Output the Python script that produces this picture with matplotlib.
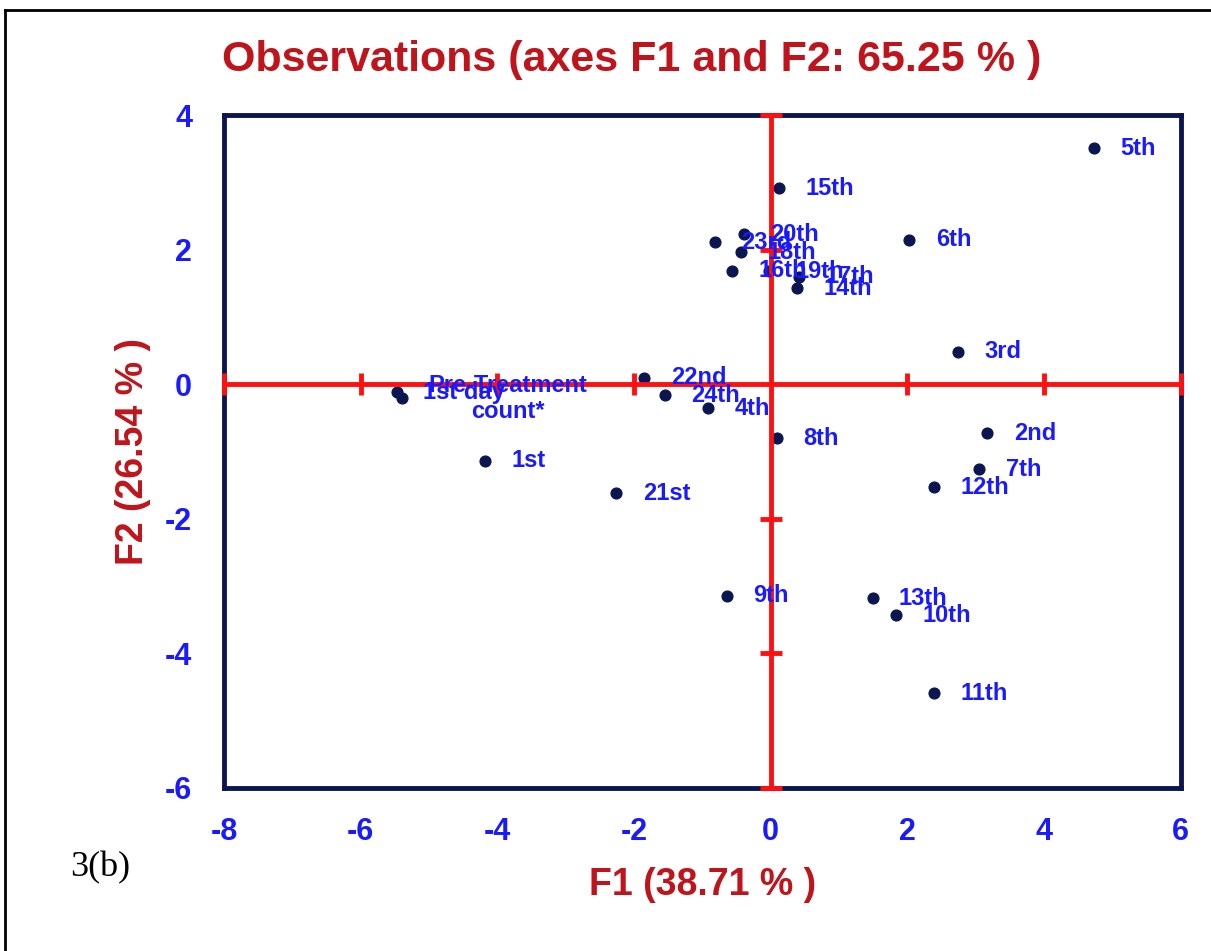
import matplotlib
matplotlib.use("Agg")
import matplotlib.pyplot as plt
from matplotlib.lines import Line2D
import numpy as np

# factor scores of the observations on F1 / F2
labels = ["Pre-Treatment\ncount*", "1st day", "1st", "2nd", "3rd", "4th", "5th", "6th",
          "7th", "8th", "9th", "10th", "11th", "12th", "13th", "14th", "15th",
          "16th", "17th", "18th", "19th", "20th", "21st", "22nd", "23rd", "24th"]
f1 = [-5.40, -5.47, -4.18, 3.17, 2.74, -0.92, 4.73, 2.03,
      3.05, 0.09, -0.64, 1.84, 2.39, 2.39, 1.49, 0.38, 0.12,
      -0.57, 0.41, -0.44, -0.03, -0.39, -2.26, -1.85, -0.82, -1.55]
f2 = [-0.21, -0.12, -1.14, -0.73, 0.48, -0.36, 3.51, 2.15,
      -1.26, -0.80, -3.14, -3.43, -4.59, -1.53, -3.18, 1.43, 2.91,
      1.69, 1.60, 1.96, 1.68, 2.23, -1.62, 0.10, 2.11, -0.16]

xticks = [-8, -6, -4, -2, 0, 2, 4, 6]
yticks = [-6, -4, -2, 0, 2, 4]

navy = "#0b1650"
red = "#ff1010"
darkred = "#c0141c"
blue = "#1a1aff"

plt.rcParams['font.family'] = ['Liberation Sans', 'DejaVu Sans']
plt.rcParams['axes.unicode_minus'] = False

fig = plt.figure(figsize=(12.11, 9.51), dpi=100)
ax = fig.add_axes([0.185, 0.1714, 0.790, 0.7076])

ax.set_xlim(-8, 6)
ax.set_ylim(-6, 4)

# red cross through the origin, with tick bars
ax.plot([-8, 6], [0, 0], color=red, lw=3.5, zorder=3, clip_on=False)
ax.plot([0, 0], [-6, 4], color=red, lw=3.5, zorder=3, clip_on=False)
ax.plot([t for t in xticks if t != 0], [0] * (len(xticks) - 1), ls="none",
        marker="|", ms=16, mew=3.5, color=red, zorder=3, clip_on=False)
ax.plot([0] * (len(yticks) - 1), [t for t in yticks if t != 0], ls="none",
        marker="_", ms=16, mew=3.5, color=red, zorder=3, clip_on=False)

ax.scatter(f1, f2, s=60, color=navy, zorder=2)

for lab, x, y in zip(labels, f1, f2):
    if "\n" in lab:
        ax.annotate(lab, (x, y), xytext=(19, 0), textcoords="offset points",
                    ha="left", va="center", color=blue, fontsize=17, fontweight="bold",
                    multialignment="center", linespacing=1.15, zorder=4)
    else:
        ax.annotate(lab, (x, y), xytext=(19, 0), textcoords="offset points",
                    ha="left", va="center", color=blue, fontsize=17, fontweight="bold",
                    zorder=4)

for sp in ax.spines.values():
    sp.set_color(navy)
    sp.set_linewidth(3.5)

ax.set_xticks(xticks)
ax.set_yticks(yticks)
ax.tick_params(axis="x", length=0, pad=21, labelsize=22, labelcolor=blue)
ax.tick_params(axis="y", length=0, pad=23, labelsize=22, labelcolor=blue)
for t in ax.get_xticklabels() + ax.get_yticklabels():
    t.set_fontweight("bold")

ax.set_xlabel("F1 (38.71 % )", color=darkred, fontsize=27, fontweight="bold", labelpad=14)
ax.set_ylabel("F2 (26.54 % )", color=darkred, fontsize=27, fontweight="bold", labelpad=10)
fig.text(0.522, 0.937, "Observations (axes F1 and F2: 65.25 % )", ha="center", va="center",
         color=darkred, fontsize=31, fontweight="bold")

fig.text(0.058, 0.088, "3(b)", family="Liberation Serif", fontsize=26, color="black",
         ha="left", va="center")

# outer frame (left and top edges)
fig.add_artist(Line2D([0.004, 0.004], [0.0, 0.989], color="black", lw=2))
fig.add_artist(Line2D([0.004, 1.0], [0.989, 0.989], color="black", lw=2))

fig.savefig("out.png", dpi=100)
